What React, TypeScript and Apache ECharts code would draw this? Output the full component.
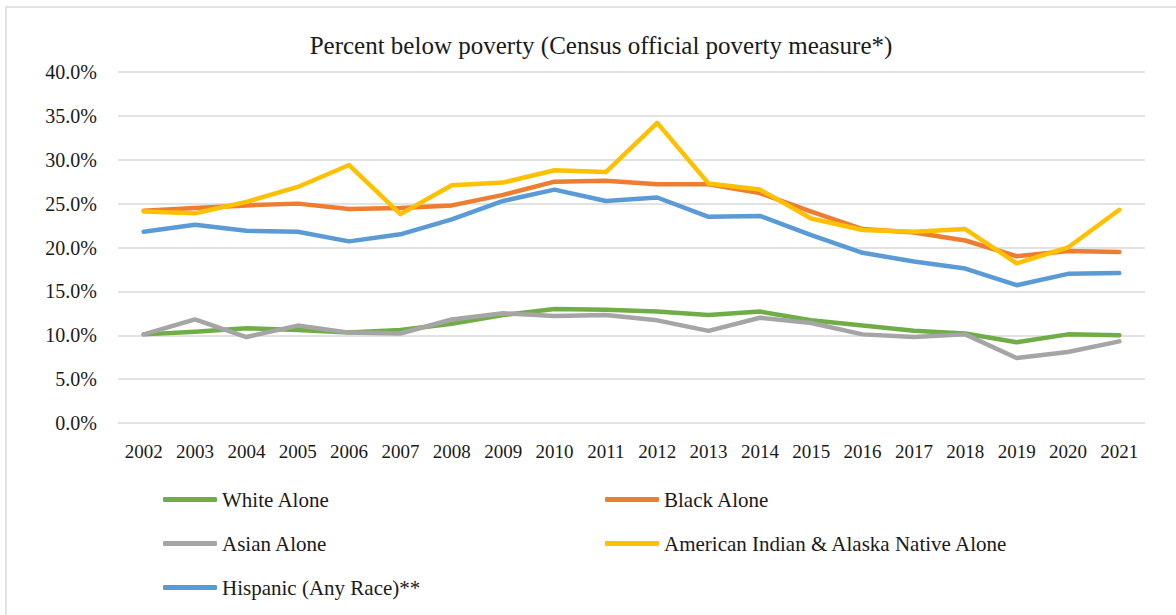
import React, { useEffect, useRef } from "react";
import * as echarts from "echarts";

const years = ["2002","2003","2004","2005","2006","2007","2008","2009","2010","2011","2012","2013","2014","2015","2016","2017","2018","2019","2020","2021"];
const whiteAlone = [10.1,10.4,10.8,10.6,10.3,10.6,11.3,12.3,13.0,12.9,12.7,12.3,12.7,11.7,11.1,10.5,10.2,9.2,10.1,10.0];
const blackAlone = [24.2,24.5,24.8,25.0,24.4,24.5,24.8,26.0,27.5,27.6,27.2,27.2,26.2,24.1,22.1,21.7,20.8,19.0,19.6,19.5];
const asianAlone = [10.1,11.8,9.8,11.1,10.3,10.2,11.8,12.5,12.2,12.3,11.7,10.5,12.0,11.4,10.1,9.8,10.1,7.4,8.1,9.3];
const aianAlone = [24.1,23.9,25.2,26.9,29.4,23.8,27.1,27.4,28.8,28.6,34.2,27.3,26.6,23.3,22.0,21.8,22.1,18.2,20.0,24.3];
const hispanic = [21.8,22.6,21.9,21.8,20.7,21.5,23.2,25.3,26.6,25.3,25.7,23.5,23.6,21.4,19.4,18.4,17.6,15.7,17.0,17.1];

const seriesNames = ["White Alone","Black Alone","Asian Alone","American Indian & Alaska Native Alone","Hispanic (Any Race)**"];
const seriesColors = ["#70AD47","#ED7D31","#A5A5A5","#FFC000","#5B9BD5"];
const seriesData = [whiteAlone, blackAlone, asianAlone, aianAlone, hispanic];

const FONT = "Liberation Serif";

export default function App() {
  const ref = useRef<HTMLDivElement>(null);
  useEffect(() => {
    const chart = echarts.init(ref.current!, null, { renderer: "svg" });
    const legendPos = [
      { left: 163, top: 489 },
      { left: 605, top: 489 },
      { left: 163, top: 533 },
      { left: 605, top: 533 },
      { left: 163, top: 577 },
    ];
    chart.setOption({
      animation: false,
      backgroundColor: "#ffffff",
      textStyle: { fontFamily: FONT },
      title: {
        text: "Percent below poverty (Census official poverty measure*)",
        left: 596,
        top: 28,
        textAlign: "center",
        textStyle: { fontFamily: FONT, fontSize: 25, fontWeight: "normal", color: "#1a1a1a" },
      },
      graphic: [
        {
          type: "rect",
          shape: { x: 6, y: 7, width: 1200, height: 700 },
          style: { fill: "none", stroke: "#D9D9D9", lineWidth: 1.5 },
          silent: true,
        },
      ],
      legend: seriesNames.map((n, i) => ({
        left: legendPos[i].left,
        top: legendPos[i].top,
        data: [n],
        icon: "roundRect",
        itemWidth: 54,
        itemHeight: 5,
        itemGap: 0,
        padding: 0,
        selectedMode: false,
        textStyle: { fontFamily: FONT, fontSize: 21, color: "#1a1a1a" },
      })),
      grid: { left: 118, right: 31, top: 72, bottom: 192, containLabel: false },
      xAxis: {
        type: "category",
        data: years,
        boundaryGap: true,
        axisLine: { show: false },
        axisTick: { show: false },
        axisLabel: { fontFamily: FONT, fontSize: 19, color: "#1a1a1a", margin: 19, interval: 0 },
      },
      yAxis: {
        type: "value",
        min: 0,
        max: 40,
        interval: 5,
        axisLine: { show: false },
        axisTick: { show: false },
        splitLine: { lineStyle: { color: "#D9D9D9", width: 1.5 } },
        axisLabel: {
          fontFamily: FONT,
          fontSize: 20,
          color: "#1a1a1a",
          margin: 21,
          formatter: (v: number) => v.toFixed(1) + "%",
        },
      },
      series: seriesNames.map((n, i) => ({
        name: n,
        type: "line",
        data: seriesData[i],
        showSymbol: false,
        symbol: "none",
        color: seriesColors[i],
        lineStyle: { width: 4.5, color: seriesColors[i], cap: "round", join: "round" },
      })),
    });
    return () => chart.dispose();
  }, []);
  return <div ref={ref} style={{ position: "fixed", left: 0, top: 0, width: 1176, height: 615 }} />;
}
